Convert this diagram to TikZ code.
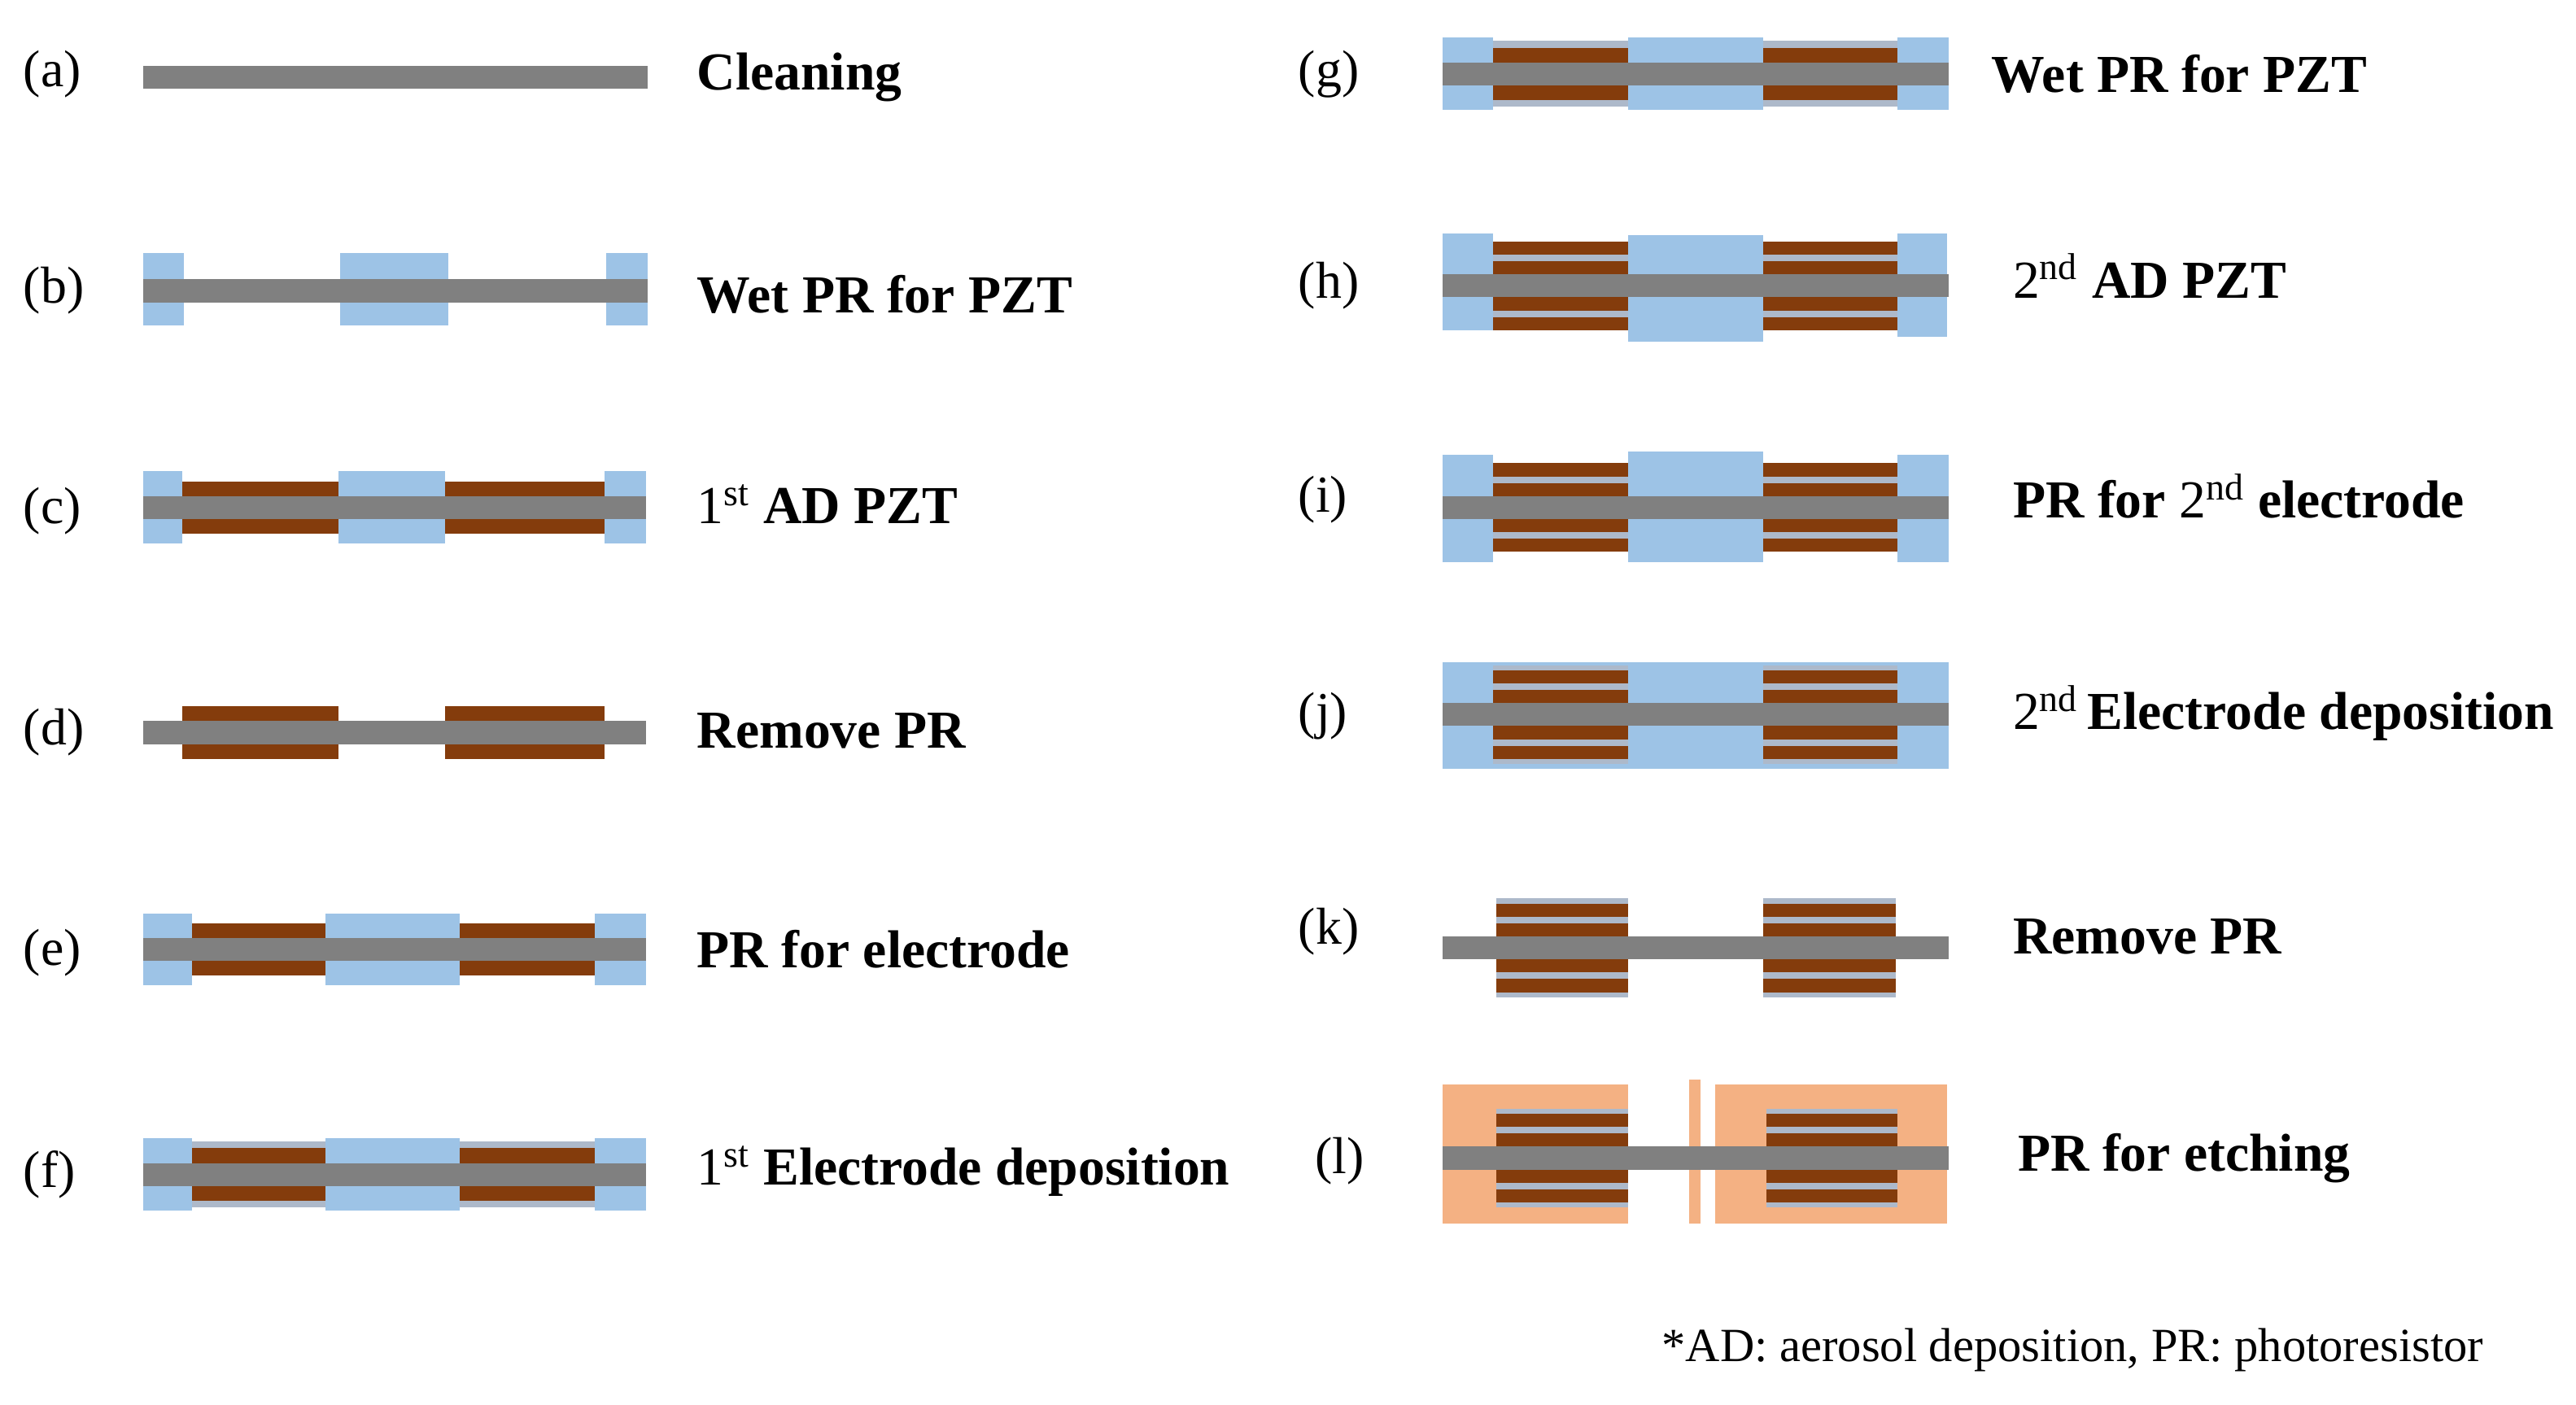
\documentclass[tikz,border=0pt]{standalone}
\usepackage{fontspec}
\setmainfont{Liberation Serif}
\definecolor{sub}{HTML}{808080}
\definecolor{pr}{HTML}{9DC3E6}
\definecolor{pzt}{HTML}{843C0C}
\definecolor{el}{HTML}{ADB9CA}
\definecolor{etch}{HTML}{F4B183}
\newcommand\sym[6]{\fill[#6] (#1,#3-#5) rectangle (#2,#3-#4); \fill[#6] (#1,#3+#4) rectangle (#2,#3+#5);}
\newcommand\full[4]{\fill[#4] (#1,#3-22) rectangle (#2,#3+22);}
\newcommand\subbar[3]{\fill[sub] (#1,#3-7) rectangle (#2,#3+7);}
\newcommand\one[3]{\sym{#1}{#2}{#3}{7}{16}{pzt}}
\newcommand\onee[3]{\sym{#1}{#2}{#3}{7}{20}{el}\sym{#1}{#2}{#3}{7}{16}{pzt}}
\newcommand\two[3]{\sym{#1}{#2}{#3}{7}{27}{pzt}\sym{#1}{#2}{#3}{15}{19}{el}}
\newcommand\twoe[3]{\sym{#1}{#2}{#3}{7}{30}{el}\sym{#1}{#2}{#3}{7}{27}{pzt}\sym{#1}{#2}{#3}{15}{19}{el}}
\begin{document}
\begin{tikzpicture}[x=0.02cm,y=-0.02cm,
  lab/.style={anchor=west,font=\fontsize{18}{20}\selectfont,inner sep=0},
  stp/.style={anchor=west,font=\fontsize{18.5}{20}\selectfont\bfseries,inner sep=0}]
\useasboundingbox (0,0) rectangle (1568,855);
% ---- (a)
\node[lab] (la) at (14,45) {(a)};
\subbar{87}{394}{47}
\node[stp] (ta) at (424,47) {Cleaning};
% ---- (b)
\node[lab] (lb) at (14,177) {(b)};
\fill[pr] (87,154) rectangle (112,198);
\fill[pr] (207,154) rectangle (273,198);
\fill[pr] (369,154) rectangle (394,198);
\subbar{87}{394}{177}
\node[stp] (tb) at (424,179) {Wet PR for PZT};
% ---- (c)
\node[lab] (lc) at (14,311) {(c)};
\fill[pr] (87,287) rectangle (111,331);
\fill[pr] (206,287) rectangle (271,331);
\fill[pr] (368,287) rectangle (393,331);
\one{111}{206}{309}\one{271}{368}{309}
\subbar{87}{393}{309}
\node[stp] (tc) at (424,307) {\normalfont 1\textsuperscript{st}\bfseries\ AD PZT};
% ---- (d)
\node[lab] (ld) at (14,446) {(d)};
\one{111}{206}{446}\one{271}{368}{446}
\subbar{87}{393}{446}
\node[stp] (td) at (424,445) {Remove PR};
% ---- (e)
\node[lab] (le) at (14,580) {(e)};
\full{87}{117}{578}{pr}\full{198}{280}{578}{pr}\full{362}{393}{578}{pr}
\one{117}{198}{578}\one{280}{362}{578}
\subbar{87}{393}{578}
\node[stp] (te) at (424,578) {PR for electrode};
% ---- (f)
\node[lab] (lf) at (14,715) {(f)};
\full{87}{117}{715}{pr}\full{198}{280}{715}{pr}\full{362}{393}{715}{pr}
\onee{117}{198}{715}\onee{280}{362}{715}
\subbar{87}{393}{715}
\node[stp] (tf) at (424,713) {\normalfont 1\textsuperscript{st}\bfseries\ Electrode deposition};
% ---- (g)
\node[lab] (lg) at (790,45) {(g)};
\full{878}{909}{45}{pr}\full{991}{1073}{45}{pr}\full{1155}{1186}{45}{pr}
\onee{909}{991}{45}\onee{1073}{1155}{45}
\subbar{878}{1186}{45}
\node[stp] (tg) at (1212,45) {Wet PR for PZT};
% ---- (h)
\node[lab] (lh) at (790,174) {(h)};
\fill[pr] (878,142) rectangle (909,201);
\fill[pr] (991,143) rectangle (1073,208);
\fill[pr] (1155,142) rectangle (1185,205);
\two{909}{991}{174}\two{1073}{1155}{174}
\subbar{878}{1186}{174}
\node[stp] (th) at (1225,168) {\normalfont 2\textsuperscript{nd}\bfseries\ AD PZT};
% ---- (i)
\node[lab] (li) at (790,304) {(i)};
\fill[pr] (878,277) rectangle (909,342);
\fill[pr] (991,275) rectangle (1073,342);
\fill[pr] (1155,277) rectangle (1186,342);
\two{909}{991}{309}\two{1073}{1155}{309}
\subbar{878}{1186}{309}
\node[stp] (ti) at (1225,302) {PR for {\normalfont 2\textsuperscript{nd}} electrode};
% ---- (j)
\node[lab] (lj) at (790,436) {(j)};
\fill[pr] (878,403) rectangle (1186,468);
\twoe{909}{991}{435}\twoe{1073}{1155}{435}
\subbar{878}{1186}{435}
\node[stp] (tj) at (1225,434) {\normalfont 2\textsuperscript{nd}\bfseries\,Electrode deposition};
% ---- (k)
\node[lab] (lk) at (790,567) {(k)};
\twoe{911}{991}{577}\twoe{1073}{1154}{577}
\subbar{878}{1186}{577}
\node[stp] (tk) at (1225,570) {Remove PR};
% ---- (l)
\node[lab] (ll) at (800,707) {(l)};
\fill[etch] (878,660) rectangle (991,745);
\fill[etch] (1044,660) rectangle (1185,745);
\fill[etch] (1028,657) rectangle (1035,745);
\twoe{911}{991}{705}\twoe{1075}{1155}{705}
\subbar{878}{1186}{705}
\node[stp] (tl) at (1228,705) {PR for etching};
% ---- footnote
\node[anchor=east,inner sep=0,font=\fontsize{16.5}{18}\selectfont] (fn) at (1512,822) {*AD: aerosol deposition, PR: photoresistor};
\end{tikzpicture}
\end{document}
